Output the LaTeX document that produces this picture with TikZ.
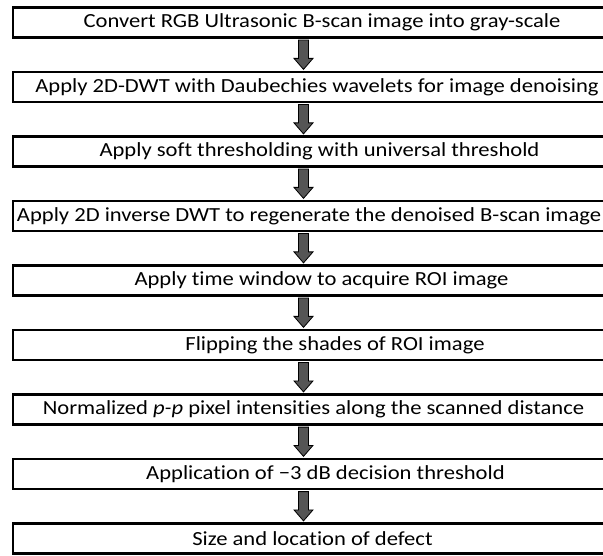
\documentclass[tikz,border=0pt]{standalone}
\usepackage{fontspec}
\setmainfont{Carlito}[FakeStretch=1.13, Ligatures=NoCommon]
\usetikzlibrary{calc}
\definecolor{arrowgray}{HTML}{555555}
\tikzset{
  stepbox/.style={draw, line width=2.6pt, minimum width=607pt, minimum height=30pt, inner sep=0pt},
  steptext/.style={inner sep=0pt, font=\fontsize{20}{22}\selectfont},
  flowarrow/.style={draw=black, line width=0.8pt, fill=arrowgray}
}
\begin{document}
\begin{tikzpicture}[x=1pt,y=1pt]
  \useasboundingbox (0,0) rectangle (603,-556);
  \clip (0,0) rectangle (603,-556);
  % processing steps (boxes run off the right edge)
  \node[stepbox] (s1) at (316.5,-22.5) {};
  \node[stepbox] (s2) at (316.5,-87) {};
  \node[stepbox] (s3) at (316.5,-151.5) {};
  \node[stepbox] (s4) at (316.5,-216) {};
  \node[stepbox] (s5) at (316.5,-280.5) {};
  \node[stepbox] (s6) at (316.5,-345) {};
  \node[stepbox] (s7) at (316.5,-409.5) {};
  \node[stepbox] (s8) at (316.5,-474) {};
  \node[stepbox] (s9) at (316.5,-538.5) {};
  % step labels
  \node[steptext] (t1) at ($(s1)+(5.5,0)$) {Convert RGB Ultrasonic B-scan image into gray-scale};
  \node[steptext] (t2) at ($(s2)+(0.5,0)$) {Apply 2D-DWT with Daubechies wavelets for image denoising};
  \node[steptext] (t3) at ($(s3)+(3,0)$) {Apply soft thresholding with universal threshold};
  \node[steptext] (t4) at ($(s4)+(-7.5,0)$) {Apply 2D inverse DWT to regenerate the denoised B-scan image};
  \node[steptext] (t5) at ($(s5)+(5,0)$) {Apply time window to acquire ROI image};
  \node[steptext] (t6) at ($(s6)+(18.5,0)$) {Flipping the shades of ROI image};
  \node[steptext] (t7) at ($(s7)+(-3,0)$) {Normalized \textit{p-p} pixel intensities along the scanned distance};
  \node[steptext] (t8) at ($(s8)+(9,0)$) {Application of −3 dB decision threshold};
  \node[steptext] (t9) at ($(s9)+(-4,0)$) {Size and location of defect};
  % block arrows between steps
  \foreach \a/\b in {s1/s2,s2/s3,s3/s4,s4/s5,s5/s6,s6/s7,s7/s8,s8/s9}{
    \draw[flowarrow] ($(\a.south)+(-18,-1.3)$) -- ($(\b.north)+(-18,12.3)$)
      -- ($(\b.north)+(-22.5,12.3)$) -- ($(\b.north)+(-13,1.3)$)
      -- ($(\b.north)+(-3.5,12.3)$) -- ($(\b.north)+(-8,12.3)$)
      -- ($(\a.south)+(-8,-1.3)$) -- cycle;
  }
\end{tikzpicture}
\end{document}
